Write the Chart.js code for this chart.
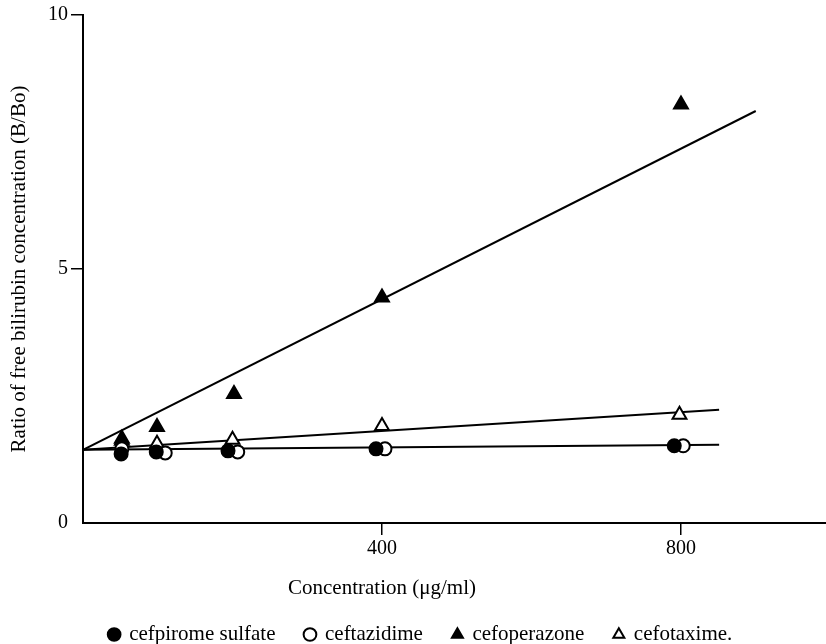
<!DOCTYPE html>
<html>
<head>
<meta charset="utf-8">
<script src="https://cdn.jsdelivr.net/npm/chart.js@4"></script>
<style>
  html, body { margin: 0; padding: 0; background: #fff; }
  #wrap { width: 826px; height: 644px; }
</style>
</head>
<body>
<div id="wrap"><canvas id="c" width="826" height="644"></canvas></div>
<script>
// ---- data ----
const seriesNames = ['cefpirome sulfate', 'ceftazidime', 'cefoperazone', 'cefotaxime.'];
const cefpiromeX = [51, 98, 194, 392, 791];
const cefpiromeY = [1.36, 1.40, 1.42, 1.46, 1.52];
const ceftazidimeX = [52, 110, 207, 404, 803];
const ceftazidimeY = [1.46, 1.38, 1.40, 1.46, 1.52];
const cefoperazoneX = [52, 99, 202, 400, 800];
const cefoperazoneY = [1.66, 1.89, 2.54, 4.44, 8.24];
const cefotaximeX = [52, 99, 200, 400, 798];
const cefotaximeY = [1.62, 1.56, 1.64, 1.91, 2.13];
// fitted lines (start, end)
const fitCefoperazoneX = [0, 900];
const fitCefoperazoneY = [1.44, 8.11];
const fitCefotaximeX = [0, 851];
const fitCefotaximeY = [1.44, 2.23];
const fitCeftazidimeX = [0, 851];
const fitCeftazidimeY = [1.44, 1.54];
const xTicks = [400, 800];
const yTicks = [0, 5, 10];
const xTitle = 'Concentration (\u03bcg/ml)';
const yTitle = 'Ratio of free bilirubin concentration (B/Bo)';

const pts = (xs, ys) => xs.map((x, i) => ({ x: x, y: ys[i] }));
const FONT = '"Liberation Serif", "Times New Roman", serif';

const markerDs = (label, xs, ys, style, fill, r) => ({
  label: label,
  data: pts(xs, ys),
  showLine: false,
  pointStyle: style,
  pointRadius: r,
  pointHoverRadius: r,
  pointBackgroundColor: fill,
  pointBorderColor: '#000',
  pointBorderWidth: 2,
  backgroundColor: fill,
  borderColor: '#000',
  borderWidth: 2
});
const lineDs = (xs, ys) => ({
  label: 'fit',
  data: pts(xs, ys),
  showLine: true,
  pointRadius: 0,
  borderColor: '#000',
  borderWidth: 2,
  fill: false
});

const xTitlePlugin = {
  id: 'xTitlePlugin',
  afterDraw(chart) {
    const ctx = chart.ctx;
    const sx = chart.scales.x;
    ctx.save();
    ctx.font = '21px ' + FONT;
    ctx.fillStyle = '#000';
    ctx.textAlign = 'center';
    ctx.textBaseline = 'middle';
    ctx.fillText(xTitle, sx.getPixelForValue(xTicks[0]), sx.bottom - 6);
    ctx.restore();
  }
};

new Chart(document.getElementById('c'), {
  type: 'scatter',
  data: {
    datasets: [
      markerDs(seriesNames[0], cefpiromeX, cefpiromeY, 'circle', '#000', 6.5),
      markerDs(seriesNames[1], ceftazidimeX, ceftazidimeY, 'circle', '#fff', 6.5),
      markerDs(seriesNames[2], cefoperazoneX, cefoperazoneY, 'triangle', '#000', 8),
      markerDs(seriesNames[3], cefotaximeX, cefotaximeY, 'triangle', '#fff', 8),
      lineDs(fitCefoperazoneX, fitCefoperazoneY),
      lineDs(fitCefotaximeX, fitCefotaximeY),
      lineDs(fitCeftazidimeX, fitCeftazidimeY)
    ]
  },
  options: {
    responsive: false,
    animation: false,
    devicePixelRatio: 1,
    layout: { autoPadding: false, padding: { top: 15, right: 0, left: 16, bottom: -11 } },
    plugins: {
      tooltip: { enabled: false },
      legend: {
        position: 'bottom',
        labels: {
          usePointStyle: true,
          boxWidth: 9,
          boxHeight: 9,
          padding: 30,
          color: '#000',
          font: { family: FONT, size: 21 },
          filter: item => item.datasetIndex < 4
        }
      }
    },
    scales: {
      x: {
        type: 'linear',
        min: 0,
        max: 994,
        afterBuildTicks: s => { s.ticks = xTicks.map(v => ({ value: v })); },
        afterFit: s => { s.height = 71; },
        grid: { drawOnChartArea: false, drawTicks: true, tickLength: 12, color: '#000', lineWidth: 1.5 },
        border: { display: true, color: '#000', width: 2 },
        ticks: { color: '#000', font: { family: FONT, size: 20 }, padding: 2, maxRotation: 0 },
        title: { display: false }
      },
      y: {
        type: 'linear',
        min: 0,
        max: 10,
        afterBuildTicks: s => { s.ticks = yTicks.map(v => ({ value: v })); },
        afterFit: s => { s.width = 67; },
        grid: {
          drawOnChartArea: false, drawTicks: true, tickLength: 12, lineWidth: 1.5,
          color: c => (c.tick && c.tick.value === 0) ? 'rgba(0,0,0,0)' : '#000'
        },
        border: { display: true, color: '#000', width: 2 },
        ticks: { color: '#000', font: { family: FONT, size: 20 }, padding: 3 },
        title: { display: true, text: yTitle, color: '#000', font: { family: FONT, size: 21 }, padding: { top: -9, bottom: 0 } }
      }
    }
  },
  plugins: [xTitlePlugin]
});
</script>
</body>
</html>
